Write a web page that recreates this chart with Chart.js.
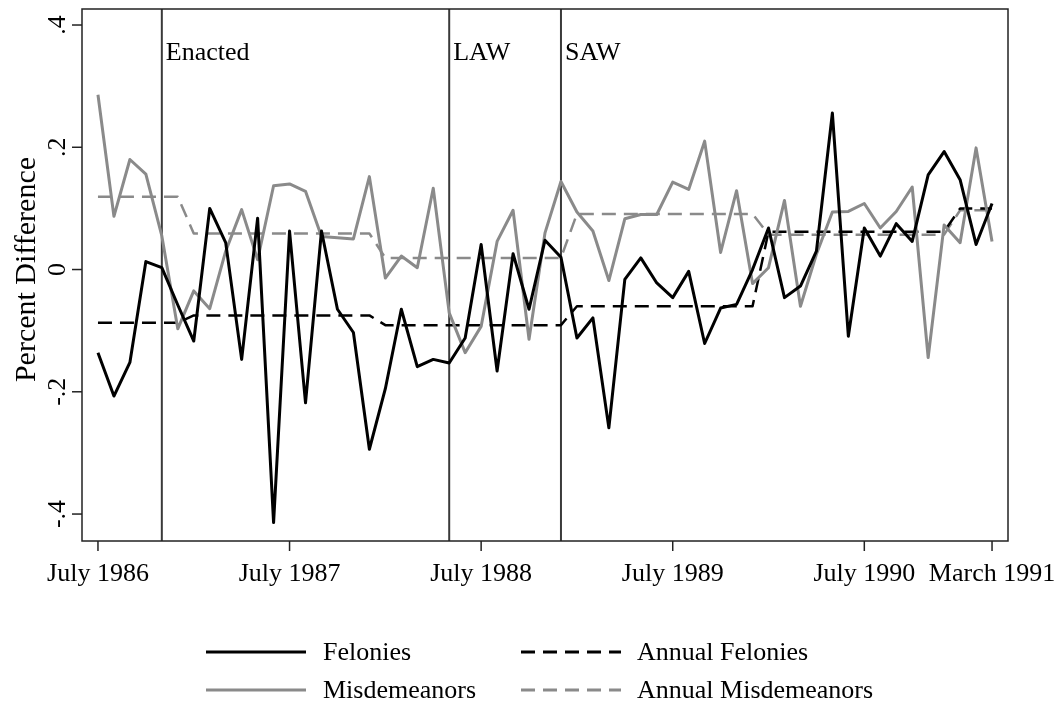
<!DOCTYPE html>
<html>
<head>
<meta charset="utf-8">
<title>Percent Difference</title>
<script src="https://cdn.jsdelivr.net/npm/chart.js@4.4.1/dist/chart.umd.min.js"></script>
<style>
    html, body { margin: 0; padding: 0; background: #fff; }
    #wrap { width: 1060px; height: 705px; }
</style>
</head>
<body>
<div id="wrap"><canvas id="myChart" width="1060" height="705"></canvas></div>
<script>
//--- Data (month index 0 = July 1986 ... 56 = March 1991)
var felonies = [
    -0.136, -0.207, -0.152, 0.013, 0.003, -0.058, -0.117, 0.100, 0.044, -0.147, 0.084, -0.414,
    0.063, -0.218, 0.063, -0.065, -0.103, -0.294, -0.195, -0.065, -0.159, -0.147, -0.153, -0.112,
    0.041, -0.166, 0.026, -0.065, 0.048, 0.020, -0.112, -0.079, -0.259, -0.016, 0.019, -0.022,
    -0.046, -0.003, -0.121, -0.063, -0.057, 0.000, 0.068, -0.046, -0.027, 0.030, 0.256, -0.109,
    0.068, 0.022, 0.075, 0.046, 0.155, 0.193, 0.147, 0.041, 0.108
];
var misdemeanors = [
    0.286, 0.087, 0.180, 0.156, 0.055, -0.097, -0.035, -0.064, 0.030, 0.098, 0.016, 0.137,
    0.140, 0.128, 0.054, 0.052, 0.050, 0.152, -0.014, 0.022, 0.003, 0.133, -0.071, -0.136,
    -0.093, 0.046, 0.097, -0.114, 0.060, 0.144, 0.094, 0.063, -0.018, 0.083, 0.090, 0.090,
    0.143, 0.131, 0.210, 0.028, 0.129, -0.023, 0.003, 0.113, -0.060, 0.025, 0.094, 0.095,
    0.108, 0.068, 0.095, 0.135, -0.144, 0.073, 0.044, 0.199, 0.046
];
var annualFelonies = [
    -0.087, -0.087, -0.087, -0.087, -0.087, -0.087,
    -0.075, -0.075, -0.075, -0.075, -0.075, -0.075, -0.075, -0.075, -0.075, -0.075, -0.075, -0.075,
    -0.091, -0.091, -0.091, -0.091, -0.091, -0.091, -0.091, -0.091, -0.091, -0.091, -0.091, -0.091,
    -0.060, -0.060, -0.060, -0.060, -0.060, -0.060, -0.060, -0.060, -0.060, -0.060, -0.060, -0.060,
    0.062, 0.062, 0.062, 0.062, 0.062, 0.062, 0.062, 0.062, 0.062, 0.062, 0.062, 0.062,
    0.100, 0.100, 0.100
];
var annualMisdemeanors = [
    0.119, 0.119, 0.119, 0.119, 0.119, 0.119,
    0.059, 0.059, 0.059, 0.059, 0.059, 0.059, 0.059, 0.059, 0.059, 0.059, 0.059, 0.059,
    0.019, 0.019, 0.019, 0.019, 0.019, 0.019, 0.019, 0.019, 0.019, 0.019, 0.019, 0.019,
    0.091, 0.091, 0.091, 0.091, 0.091, 0.091, 0.091, 0.091, 0.091, 0.091, 0.091, 0.091,
    0.057, 0.057, 0.057, 0.057, 0.057, 0.057, 0.057, 0.057, 0.057, 0.057, 0.057, 0.057,
    0.097, 0.097, 0.097
];
var xTickMonths = [0, 12, 24, 36, 48, 56];
var xTickLabels = ['July 1986', 'July 1987', 'July 1988', 'July 1989', 'July 1990', 'March 1991'];
var yTicks = [-0.4, -0.2, 0, 0.2, 0.4];
var yTickLabels = ['-.4', '-.2', '0', '.2', '.4'];
var eventMonths = [4, 22, 29];
var eventLabels = ['Enacted', 'LAW', 'SAW'];
var seriesNames = ['Felonies', 'Misdemeanors', 'Annual Felonies', 'Annual Misdemeanors'];

var SERIF = "'Liberation Serif', 'Times New Roman', serif";
var BLACK = '#000000';
var GRAY = '#8a8a8a';
var DASH = [14, 8];

function toPoints(arr) {
    return arr.map(function (v, i) { return { x: i, y: v }; });
}

//--- Stata-like frame, axes, event lines and legend
var stataFrame = {
    id: 'stataFrame',
    beforeDatasetsDraw: function (chart) {
        var ctx = chart.ctx;
        var a = chart.chartArea;
        var xs = chart.scales.x;
        ctx.save();
        ctx.strokeStyle = '#3a3a3a';
        ctx.lineWidth = 2;
        ctx.fillStyle = '#000';
        ctx.font = '26px ' + SERIF;
        ctx.textAlign = 'left';
        ctx.textBaseline = 'alphabetic';
        eventMonths.forEach(function (m, i) {
            var px = xs.getPixelForValue(m);
            ctx.beginPath();
            ctx.moveTo(px, a.top);
            ctx.lineTo(px, a.bottom);
            ctx.stroke();
            ctx.fillText(eventLabels[i], px + 4, a.top + 51);
        });
        ctx.restore();
    },
    afterDraw: function (chart) {
        var ctx = chart.ctx;
        var a = chart.chartArea;
        var xs = chart.scales.x;
        var ys = chart.scales.y;
        ctx.save();

        // plot box
        ctx.strokeStyle = '#222';
        ctx.lineWidth = 1.5;
        ctx.strokeRect(a.left, a.top, a.right - a.left, a.bottom - a.top);

        ctx.fillStyle = '#000';
        ctx.font = '26px ' + SERIF;

        // x axis ticks
        ctx.textAlign = 'center';
        ctx.textBaseline = 'alphabetic';
        xTickMonths.forEach(function (m, i) {
            var px = xs.getPixelForValue(m);
            ctx.beginPath();
            ctx.moveTo(px, a.bottom);
            ctx.lineTo(px, a.bottom + 10);
            ctx.stroke();
            ctx.fillText(xTickLabels[i], px, a.bottom + 40);
        });

        // y axis ticks (rotated labels)
        yTicks.forEach(function (v, i) {
            var py = ys.getPixelForValue(v);
            ctx.beginPath();
            ctx.moveTo(a.left - 10, py);
            ctx.lineTo(a.left, py);
            ctx.stroke();
            ctx.save();
            ctx.translate(a.left - 17, py);
            ctx.rotate(-Math.PI / 2);
            ctx.textAlign = 'center';
            ctx.fillText(yTickLabels[i], 0, 0);
            ctx.restore();
        });

        // y axis title
        ctx.save();
        ctx.font = '30px ' + SERIF;
        ctx.translate(35, ys.getPixelForValue(0));
        ctx.rotate(-Math.PI / 2);
        ctx.textAlign = 'center';
        ctx.fillText('Percent Difference', 0, 0);
        ctx.restore();

        // legend, 2 x 2
        var rows = [652, 690];
        var cols = [{ x0: 206, x1: 306, tx: 323 }, { x0: 521, x1: 621, tx: 637 }];
        var items = [
            { col: 0, row: 0, color: BLACK, dash: [] },
            { col: 0, row: 1, color: GRAY, dash: [] },
            { col: 1, row: 0, color: BLACK, dash: DASH },
            { col: 1, row: 1, color: GRAY, dash: DASH }
        ];
        ctx.textAlign = 'left';
        ctx.textBaseline = 'middle';
        items.forEach(function (it, i) {
            var c = cols[it.col];
            var y = rows[it.row];
            ctx.strokeStyle = it.color;
            ctx.lineWidth = 3;
            ctx.setLineDash(it.dash);
            ctx.beginPath();
            ctx.moveTo(c.x0, y);
            ctx.lineTo(c.x1, y);
            ctx.stroke();
            ctx.setLineDash([]);
            ctx.fillText(seriesNames[i], c.tx, y + 1);
        });

        ctx.restore();
    }
};

const ctx = document.getElementById('myChart');
var chart = new Chart(ctx, {
    type: 'line',
    data: {
        datasets: [{
            label: seriesNames[0],
            data: toPoints(felonies),
            borderColor: BLACK,
            borderWidth: 3
        }, {
            label: seriesNames[1],
            data: toPoints(misdemeanors),
            borderColor: GRAY,
            borderWidth: 3
        }, {
            label: seriesNames[2],
            data: toPoints(annualFelonies),
            borderColor: BLACK,
            borderWidth: 2.5,
            borderDash: DASH
        }, {
            label: seriesNames[3],
            data: toPoints(annualMisdemeanors),
            borderColor: GRAY,
            borderWidth: 2.5,
            borderDash: DASH
        }]
    },
    options: {
        responsive: false,
        animation: false,
        devicePixelRatio: 1,
        layout: { padding: { left: 82, right: 52, top: 9, bottom: 164 } },
        elements: {
            point: { radius: 0 },
            line: { tension: 0, borderJoinStyle: 'round', fill: false }
        },
        plugins: {
            legend: { display: false },
            tooltip: { enabled: false }
        },
        scales: {
            x: { type: 'linear', display: false, min: -1, max: 57 },
            y: { display: false, min: -0.4441, max: 0.4262 }
        }
    },
    plugins: [stataFrame]
});
</script>
</body>
</html>
